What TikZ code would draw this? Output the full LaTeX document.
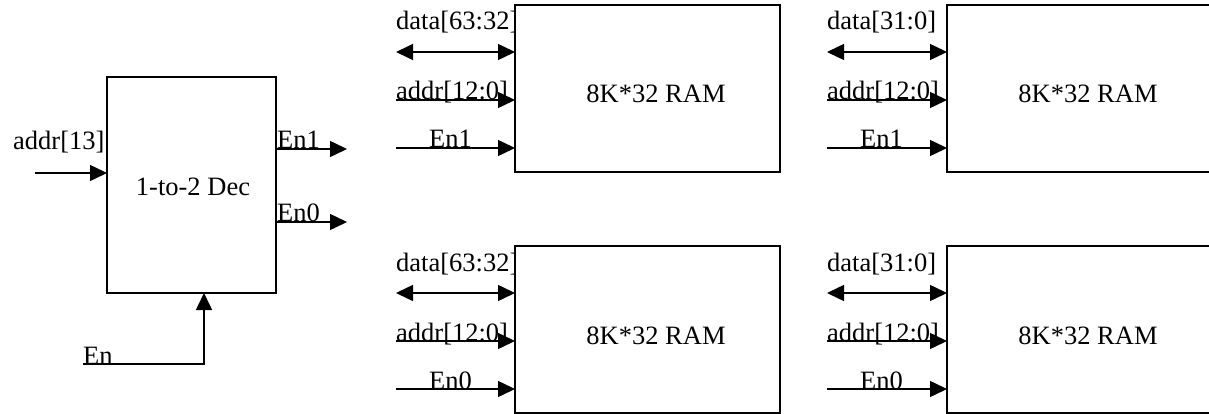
\documentclass[tikz,border=0pt]{standalone}
\usepackage{fontspec}
\setmainfont{Liberation Serif}
\usetikzlibrary{arrows.meta}
\begin{document}
\begin{tikzpicture}[x=1pt,y=-1pt,
  tip/.tip={Triangle[length=17pt,width=16pt]},
  wire/.style={line width=1.5pt},
  sig/.style={wire,-tip},
  bus/.style={wire,tip-tip},
  blk/.style={draw,line width=1.8pt,fill=white,inner sep=0pt,outer sep=0pt,
    anchor=north west,font=\fontsize{26.5}{29}\selectfont},
  ram/.style={blk,minimum width=265pt,minimum height=167pt},
  lbl/.style={inner sep=0pt,anchor=base west,font=\fontsize{26.5}{29}\selectfont},
  ]
\useasboundingbox (0,0) rectangle (1209,414);

% decoder
\node[blk,minimum width=169pt,minimum height=216pt] (dec) at (107,77) {};
\node[lbl,anchor=base] (dectxt) at (193,195) {1-to-2 Dec};
\node[lbl] (la13) at (13,150) {addr[13]};
\node[lbl] (lden1) at (277,149) {En1};
\node[lbl] (lden0) at (277,222) {En0};
\node[lbl] (lden) at (83,364) {En};

\coordinate (a13) at (35,173);
\draw[sig] (a13) -- (a13 -| dec.west);
\coordinate (en1) at (347,149);
\draw[sig] (en1 -| dec.east) -- (en1);
\coordinate (en0) at (347,222);
\draw[sig] (en0 -| dec.east) -- (en0);
\coordinate (en) at (83,364);
\coordinate (enx) at (204,364);
\draw[sig] (en) -- (enx) -- (enx |- dec.south);

% memory banks: name / left / top / wire start / data bits / enable / text x
\foreach \n/\x/\y/\s/\d/\e/\ex in {%
    ul/515/5/396/63:32/En1/429,
    ur/947/5/827/31:0/En1/860,
    ll/515/246/396/63:32/En0/429,
    lr/947/246/827/31:0/En0/860} {
  \node[lbl] (\n-ld) at (\s,\y+25) {data[\d]};
  \node[lbl] (\n-la) at (\s,\y+95) {addr[12:0]};
  \node[lbl] (\n-le) at (\ex,\y+143) {\e};
  \node[ram] (\n) at (\x,\y) {};
  \node[lbl,anchor=base] (\n-t) at (\x+141,\y+98) {8K*32 RAM};
  \coordinate (\n-d) at (\s,\y+47);
  \coordinate (\n-a) at (\s,\y+95);
  \coordinate (\n-e) at (\s,\y+143);
  \draw[bus] (\n-d) -- (\n-d -| \n.west);
  \draw[sig] (\n-a) -- (\n-a -| \n.west);
  \draw[sig] (\n-e) -- (\n-e -| \n.west);
}
\end{tikzpicture}
\end{document}
